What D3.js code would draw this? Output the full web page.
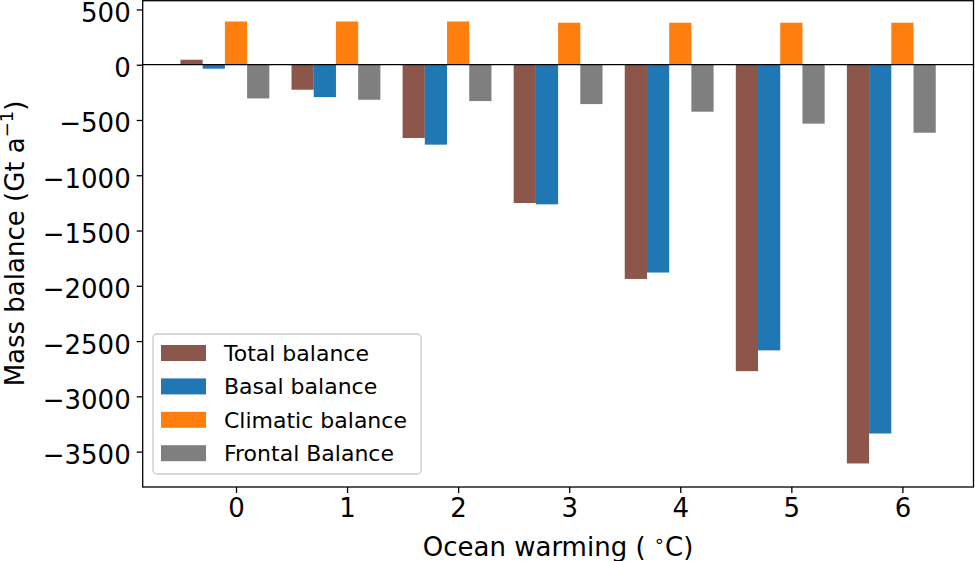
<!DOCTYPE html>
<html>
<head>
<meta charset="utf-8">
<script src="https://cdn.jsdelivr.net/npm/d3@7"></script>
<style>
  body { margin: 0; background: #fff; }
  text { font-family: "DejaVu Sans", sans-serif; fill: #000; }
</style>
</head>
<body>
<div id="chart"></div>
<script>
// ocean warming steps (deg C)
var warming = [0, 1, 2, 3, 4, 5, 6];

// mass balance terms, Gt/a
var totalBalance = [45, -226, -663, -1251, -1938, -2772, -3607];
var basalBalance = [-36, -293, -723, -1263, -1880, -2584, -3336];
var climaticBalance = [391, 391, 391, 380, 380, 380, 380];
var frontalBalance = [-305, -317, -329, -356, -425, -533, -615];

var seriesNames = ['Total balance', 'Basal balance', 'Climatic balance', 'Frontal Balance'];
var yTicks = [500, 0, -500, -1000, -1500, -2000, -2500, -3000, -3500];

var colors = ['#8c564b', '#1f77b4', '#ff7f0e', '#7f7f7f'];
var offsets = [-0.4, -0.2, 0, 0.2];
var barW = 0.2;

var width = 975, height = 561;
var left = 142.7, right = 973.5, bottom = 487;

var svg = d3.select('#chart').append('svg')
  .attr('width', width)
  .attr('height', height);

var x = d3.scaleLinear().domain([-0.84, 6.64]).range([left, right]);
var y = d3.scaleLinear().domain([-3820, 590]).range([bottom, -0.5]);

var series = [totalBalance, basalBalance, climaticBalance, frontalBalance];

series.forEach(function (vals, i) {
  svg.append('g').selectAll('rect')
    .data(vals)
    .enter()
    .append('rect')
    .attr('x', function (d, j) { return x(warming[j] + offsets[i] - barW / 2); })
    .attr('width', function (d, j) { return x(warming[j] + offsets[i] + barW / 2) - x(warming[j] + offsets[i] - barW / 2); })
    .attr('y', function (d) { return Math.min(y(d), y(0)); })
    .attr('height', function (d) { return Math.abs(y(d) - y(0)); })
    .attr('fill', colors[i]);
});

// zero line
svg.append('line')
  .attr('x1', left).attr('x2', right)
  .attr('y1', y(0)).attr('y2', y(0))
  .attr('stroke', '#000')
  .attr('stroke-width', 1.3);

var fmt = function (d) { return d < 0 ? '\u2212' + Math.abs(d) : String(d); };

var yAxis = svg.append('g')
  .attr('transform', 'translate(' + left + ',0)')
  .call(d3.axisLeft(y).tickValues(yTicks).tickFormat(fmt).tickSize(6).tickPadding(6));

var xAxis = svg.append('g')
  .attr('transform', 'translate(0,' + bottom + ')')
  .call(d3.axisBottom(x).tickValues(warming).tickFormat(d3.format('d')).tickSize(6).tickPadding(6));

[xAxis, yAxis].forEach(function (g) {
  g.select('.domain').remove();
  g.selectAll('line').attr('stroke', '#000').attr('stroke-width', 1.3);
  g.selectAll('text').style('font-size', '26px').attr('fill', '#000');
});
yAxis.selectAll('text').attr('dy', '0.46em');

// frame
svg.append('rect')
  .attr('x', left).attr('y', 0.7)
  .attr('width', right - left).attr('height', bottom - 0.7)
  .attr('fill', 'none')
  .attr('stroke', '#000')
  .attr('stroke-width', 1.3);

// axis labels
var xl = svg.append('text')
  .attr('x', (left + right) / 2)
  .attr('y', 556)
  .attr('text-anchor', 'middle')
  .style('font-size', '26px');
xl.append('tspan').text('Ocean warming ( ');
xl.append('tspan').attr('dy', -9).style('font-size', '18px').text('\u2218');
xl.append('tspan').attr('dy', 9).text('C)');

var yl = svg.append('text')
  .attr('transform', 'translate(24,' + (bottom / 2) + ') rotate(-90)')
  .attr('text-anchor', 'middle')
  .style('font-size', '26px');
yl.append('tspan').text('Mass balance (Gt a');
yl.append('tspan').attr('dy', -11).style('font-size', '18px').text('\u22121');
yl.append('tspan').attr('dy', 11).text(')');

// legend
var lg = svg.append('g');
lg.append('rect')
  .attr('x', 153).attr('y', 334)
  .attr('width', 268).attr('height', 140)
  .attr('rx', 4)
  .attr('fill', '#fff').attr('fill-opacity', 0.8)
  .attr('stroke', '#ccc').attr('stroke-width', 1.3);

var rows = lg.selectAll('g.row')
  .data(seriesNames)
  .enter()
  .append('g')
  .attr('class', 'row')
  .attr('transform', function (d, i) { return 'translate(0,' + (353 + i * 33.4) + ')'; });

rows.append('rect')
  .attr('x', 161).attr('y', -8)
  .attr('width', 45).attr('height', 16)
  .attr('fill', function (d, i) { return colors[i]; });

rows.append('text')
  .attr('x', 224)
  .attr('dy', '0.36em')
  .style('font-size', '22px')
  .text(function (d) { return d; });
</script>
</body>
</html>
